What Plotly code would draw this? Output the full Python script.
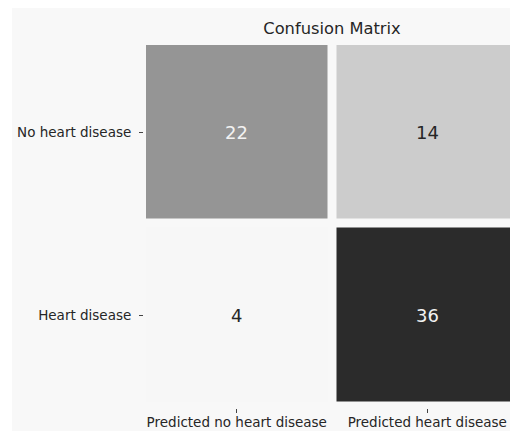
import plotly.graph_objects as go

# ---- data ----
title_text = "Confusion Matrix"
row_labels = ["No heart disease", "Heart disease"]
col_labels = ["Predicted no heart disease", "Predicted heart disease"]
counts = [[22, 14], [4, 36]]

# ---- layout constants (page pixels; the page body adds an 8px offset) ----
OFF = 8
W, H = 518, 431
PLOT_L, PLOT_R = 146, 518
PLOT_T, PLOT_B = 45, 402
GAP = 9

def fx(px):
    return (px - OFF) / W

def fy(py):
    return 1 - (py - OFF) / H

zmin = min(min(r) for r in counts)
zmax = max(max(r) for r in counts)

gray_scale = [
    [0.0, "#f7f7f7"],
    [0.3125, "#cccccc"],
    [0.5625, "#959595"],
    [1.0, "#2b2b2b"],
]

xs = list(range(len(col_labels)))
ys = list(range(len(row_labels)))

# extend ranges so that the outer half-gaps fall outside the plot area
nx, ny = len(xs), len(ys)
dx = GAP / ((PLOT_R - PLOT_L) + GAP) * nx / 2
dy = GAP / ((PLOT_B - PLOT_T) + GAP) * ny / 2

fig = go.Figure(
    go.Heatmap(
        z=counts,
        x=xs,
        y=ys,
        zmin=zmin,
        zmax=zmax,
        colorscale=gray_scale,
        showscale=False,
        xgap=GAP,
        ygap=GAP,
        hoverinfo="skip",
    )
)

mid = (zmin + zmax) / 2
for i, row in enumerate(counts):
    for j, v in enumerate(row):
        fig.add_annotation(
            x=xs[j], y=ys[i], text=str(v), showarrow=False,
            font=dict(family="DejaVu Sans", size=18,
                      color="#f2f2f2" if v > mid else "#262626"),
        )

# light gray panel, leaving a thin white strip on the left
fig.add_shape(
    type="rect", xref="paper", yref="paper",
    x0=fx(12), x1=1, y0=0, y1=1,
    fillcolor="#f8f8f8", line=dict(width=0), layer="below",
)

fig.update_layout(
    width=W, height=H,
    margin=dict(l=0, r=0, t=0, b=0),
    paper_bgcolor="white",
    plot_bgcolor="#fbfbfb",
    font=dict(family="DejaVu Sans", color="#262626"),
    title=dict(
        text=title_text, x=fx((PLOT_L + PLOT_R) / 2), xanchor="center",
        y=fy(28), yanchor="middle", xref="paper", yref="paper",
        font=dict(family="DejaVu Sans", size=16.3, color="#262626"),
    ),
    xaxis=dict(
        domain=[fx(PLOT_L), fx(PLOT_R)],
        range=[xs[0] - 0.5 + dx, xs[-1] + 0.5 - dx],
        tickvals=xs, ticktext=col_labels,
        ticks="outside", ticklen=4, tickwidth=1, tickcolor="#444",
        tickfont=dict(size=13.5, color="#262626"),
        ticklabelstandoff=-2,
        showgrid=False, zeroline=False, showline=False,
        anchor="free", position=fy(408),
    ),
    yaxis=dict(
        domain=[fy(PLOT_B), fy(PLOT_T)],
        range=[ys[-1] + 0.5 - dy, ys[0] - 0.5 + dy],
        tickvals=ys, ticktext=row_labels,
        ticks="outside", ticklen=4, tickwidth=1, tickcolor="#444",
        tickfont=dict(size=13.5, color="#262626"),
        ticklabelstandoff=5,
        showgrid=False, zeroline=False, showline=False,
        anchor="free", position=fx(143),
    ),
)

fig.write_html("out.html", config={"displayModeBar": False})
